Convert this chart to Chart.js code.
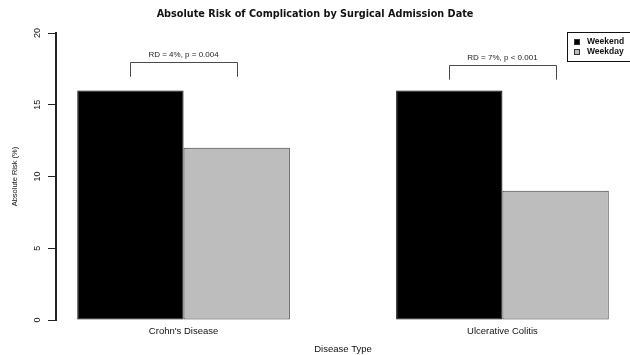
<!DOCTYPE html>
<html>
<head>
<meta charset="utf-8">
<script src="https://cdn.jsdelivr.net/npm/chart.js@4.4.1/dist/chart.umd.min.js"></script>
<style>
  html, body { margin: 0; padding: 0; background: #fff; }
  #wrap { width: 630px; height: 355px; }
</style>
</head>
<body>
<div id="wrap"><canvas id="c" width="630" height="355"></canvas></div>
<script>
// Absolute risk (%) of complication, by disease type and admission day
const categories = ["Crohn's Disease", "Ulcerative Colitis"];
const weekendRisk = [16, 16];
const weekdayRisk = [12, 9];
const seriesNames = ["Weekend", "Weekday"];
const riskDiffLabels = ["RD = 4%, p = 0.004", "RD = 7%, p < 0.001"];
const yTickValues = [0, 5, 10, 15, 20];

const FONT = "'Liberation Sans', Arial, sans-serif";
const TITLE_FONT = "'DejaVu Sans', 'Liberation Sans', sans-serif";

// Each group holds two unit-wide bars with one unit of space in between,
// so group i is centred at 2 + 3i on the x axis.
const groupCenter = i => 2 + 3 * i;
const toPoints = vals => vals.map((v, i) => ({ x: groupCenter(i), y: v }));

// Comparison brackets above each pair of bars with the risk difference label
const bracketPlugin = {
  id: 'brackets',
  afterDatasetsDraw(chart, args, opts) {
    const { ctx } = chart;
    const y = chart.scales.y;
    const m0 = chart.getDatasetMeta(0), m1 = chart.getDatasetMeta(1);
    ctx.save();
    categories.forEach((c, i) => {
      const x1 = m0.data[i].x, x2 = m1.data[i].x;
      const top = y.getPixelForValue(opts.tops[i]);
      const bottom = y.getPixelForValue(opts.tops[i] - opts.drop);
      ctx.strokeStyle = '#4a4a4a';
      ctx.lineWidth = 1;
      ctx.beginPath();
      ctx.moveTo(Math.round(x1) + 0.5, bottom);
      ctx.lineTo(Math.round(x1) + 0.5, Math.round(top) + 0.5);
      ctx.lineTo(Math.round(x2) + 0.5, Math.round(top) + 0.5);
      ctx.lineTo(Math.round(x2) + 0.5, bottom);
      ctx.stroke();
      ctx.fillStyle = '#222';
      ctx.font = `8px ${FONT}`;
      ctx.textAlign = 'center';
      ctx.textBaseline = 'middle';
      ctx.fillText(riskDiffLabels[i], (x1 + x2) / 2, top - 7);
    });
    ctx.restore();
  }
};

// Boxed legend in the top-right corner
const boxLegendPlugin = {
  id: 'boxLegend',
  afterDraw(chart) {
    const { ctx } = chart;
    const bx = 567, by = 32, bw = 70, bh = 29;
    ctx.save();
    ctx.strokeStyle = '#111';
    ctx.lineWidth = 1;
    ctx.strokeRect(bx + 0.5, by + 0.5, bw, bh);
    ctx.font = `bold 8.5px ${FONT}`;
    ctx.textAlign = 'left';
    ctx.textBaseline = 'middle';
    chart.data.datasets.forEach((ds, i) => {
      const cy = by + 10 + i * 10;
      ctx.fillStyle = ds.backgroundColor;
      ctx.fillRect(574, cy - 3, 6, 6);
      ctx.strokeStyle = '#333';
      ctx.strokeRect(574.5, cy - 2.5, 5, 5);
      ctx.fillStyle = '#111';
      ctx.fillText(ds.label, 587, cy);
    });
    ctx.restore();
  }
};

new Chart(document.getElementById('c'), {
  type: 'bar',
  data: {
    datasets: [
      {
        label: seriesNames[0],
        data: toPoints(weekendRisk),
        backgroundColor: '#000000',
        borderColor: '#000000',
        borderWidth: 1,
        borderSkipped: false
      },
      {
        label: seriesNames[1],
        data: toPoints(weekdayRisk),
        backgroundColor: '#bdbdbd',
        borderColor: '#3c3c3c',
        borderWidth: 1,
        borderSkipped: false
      }
    ]
  },
  options: {
    responsive: false,
    animation: false,
    devicePixelRatio: 1,
    layout: { padding: 0 },
    datasets: {
      bar: { categoryPercentage: 2 / 3, barPercentage: 1 }
    },
    scales: {
      x: {
        type: 'linear',
        min: 0.8,
        max: 6.2,
        offset: false,
        afterBuildTicks(scale) {
          scale.ticks = categories.map((c, i) => ({ value: groupCenter(i) }));
        },
        afterFit(scale) { scale.height = 35; },
        grid: { display: false, drawTicks: false },
        border: { display: false },
        ticks: {
          autoSkip: false,
          maxRotation: 0,
          padding: 6,
          color: '#111',
          font: { family: FONT, size: 9.5 },
          callback: (v, i) => categories[i]
        },
        title: {
          display: true,
          text: 'Disease Type',
          color: '#111',
          font: { family: FONT, size: 9.5 },
          padding: { top: 0, bottom: 0 }
        }
      },
      y: {
        min: 0,
        max: 20,
        afterBuildTicks(scale) {
          scale.ticks = yTickValues.map(v => ({ value: v }));
        },
        afterFit(scale) { scale.width = 56; },
        grid: {
          display: true,
          drawOnChartArea: false,
          drawTicks: true,
          tickLength: 8,
          color: '#222',
          lineWidth: 1
        },
        border: { display: true, color: '#222', width: 2 },
        ticks: {
          minRotation: 90,
          maxRotation: 90,
          crossAlign: 'center',
          padding: 5,
          color: '#111',
          font: { family: FONT, size: 9 }
        },
        title: {
          display: true,
          text: 'Absolute Risk (%)',
          color: '#111',
          font: { family: FONT, size: 7.5 },
          padding: { top: 10, bottom: 0 }
        }
      }
    },
    plugins: {
      legend: { display: false },
      tooltip: { enabled: false },
      title: {
        display: true,
        text: 'Absolute Risk of Complication by Surgical Admission Date',
        color: '#111',
        font: { family: TITLE_FONT, size: 9.7, weight: 'bold' },
        padding: { top: 9, bottom: 12.4 }
      },
      brackets: { tops: [18, 17.8], drop: 1.05 }
    }
  },
  plugins: [bracketPlugin, boxLegendPlugin]
});
</script>
</body>
</html>
